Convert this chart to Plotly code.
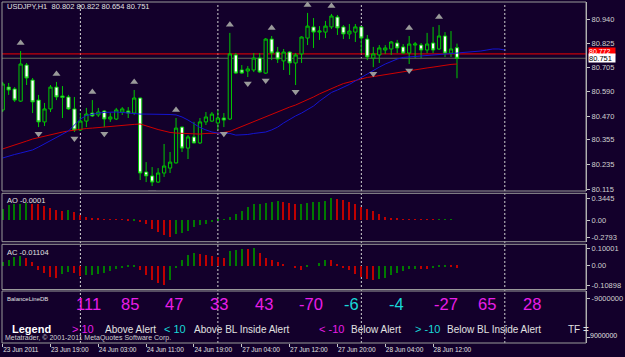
import plotly.graph_objects as go

# ---------------- data ----------------
opens = [80.500, 80.611, 80.602, 80.543, 80.718, 80.645, 80.548, 80.442, 80.505, 80.611,
         80.568, 80.563, 80.505, 80.403, 80.446, 80.485, 80.476, 80.495, 80.456, 80.456,
         80.490, 80.495, 80.485, 80.558, 80.199, 80.180, 80.150, 80.194, 80.218, 80.243,
         80.417, 80.315, 80.369, 80.340, 80.442, 80.446, 80.437, 80.461, 80.456, 80.767,
         80.694, 80.689, 80.694, 80.752, 80.679, 80.844, 80.781, 80.738, 80.781, 80.728,
         80.772, 80.849, 80.903, 80.878, 80.878, 80.903, 80.951, 80.903, 80.869, 80.878,
         80.903, 80.844, 80.752, 80.767, 80.791, 80.796, 80.825, 80.806, 80.776, 80.815,
         80.815, 80.791, 80.825, 80.796, 80.859, 80.776, 80.802]
highs = [80.636, 80.631, 80.611, 80.786, 80.728, 80.655, 80.573, 80.534, 80.621, 80.636,
         80.616, 80.573, 80.563, 80.485, 80.510, 80.548, 80.510, 80.500, 80.485, 80.510,
         80.514, 80.514, 80.597, 80.560, 80.247, 80.223, 80.218, 80.335, 80.296, 80.461,
         80.419, 80.378, 80.442, 80.461, 80.490, 80.490, 80.500, 80.485, 80.874, 80.776,
         80.718, 80.713, 80.776, 80.776, 80.849, 80.859, 80.806, 80.796, 80.786, 80.776,
         80.857, 80.971, 80.946, 80.907, 80.932, 80.966, 80.961, 80.912, 80.917, 80.917,
         80.907, 80.864, 80.806, 80.815, 80.815, 80.835, 80.840, 80.820, 80.859, 80.830,
         80.825, 80.874, 80.903, 80.912, 80.878, 80.883, 80.822]
lows = [80.490, 80.573, 80.539, 80.539, 80.621, 80.485, 80.417, 80.422, 80.490, 80.548,
        80.461, 80.500, 80.393, 80.398, 80.417, 80.466, 80.466, 80.417, 80.442, 80.451,
        80.476, 80.461, 80.476, 80.160, 80.150, 80.131, 80.146, 80.175, 80.194, 80.240,
        80.296, 80.262, 80.338, 80.335, 80.427, 80.442, 80.403, 80.417, 80.451, 80.675,
        80.675, 80.660, 80.684, 80.679, 80.675, 80.742, 80.728, 80.694, 80.670, 80.621,
        80.728, 80.815, 80.801, 80.840, 80.849, 80.893, 80.864, 80.844, 80.844, 80.830,
        80.776, 80.742, 80.708, 80.728, 80.772, 80.767, 80.776, 80.772, 80.723, 80.752,
        80.752, 80.776, 80.776, 80.791, 80.757, 80.757, 80.654]
closes = [80.626, 80.597, 80.548, 80.723, 80.655, 80.539, 80.442, 80.505, 80.611, 80.563,
          80.561, 80.505, 80.403, 80.446, 80.480, 80.471, 80.490, 80.456, 80.466, 80.500,
          80.505, 80.485, 80.558, 80.194, 80.180, 80.150, 80.194, 80.228, 80.247, 80.412,
          80.315, 80.369, 80.340, 80.442, 80.466, 80.480, 80.461, 80.451, 80.772, 80.679,
          80.679, 80.699, 80.752, 80.684, 80.844, 80.776, 80.747, 80.781, 80.728, 80.767,
          80.854, 80.907, 80.878, 80.883, 80.907, 80.956, 80.898, 80.869, 80.883, 80.903,
          80.849, 80.757, 80.772, 80.801, 80.801, 80.830, 80.801, 80.776, 80.820, 80.820,
          80.791, 80.820, 80.791, 80.859, 80.776, 80.796, 80.751]

ma_red = [80.311, 80.320, 80.328, 80.337, 80.349, 80.359, 80.366, 80.374, 80.381, 80.388,
          80.393, 80.398, 80.403, 80.408, 80.410, 80.412, 80.415, 80.417, 80.420, 80.422,
          80.425, 80.427, 80.430, 80.432, 80.422, 80.412, 80.405, 80.398, 80.391, 80.388,
          80.386, 80.386, 80.383, 80.383, 80.386, 80.386, 80.388, 80.391, 80.396, 80.408,
          80.420, 80.432, 80.444, 80.456, 80.466, 80.478, 80.490, 80.502, 80.514, 80.524,
          80.536, 80.548, 80.563, 80.578, 80.592, 80.604, 80.616, 80.628, 80.636, 80.645,
          80.653, 80.658, 80.662, 80.667, 80.672, 80.677, 80.682, 80.684, 80.689, 80.694,
          80.699, 80.704, 80.708, 80.713, 80.718, 80.721, 80.723]
ma_blue = [80.267, 80.277, 80.284, 80.291, 80.298, 80.306, 80.320, 80.335, 80.354, 80.369,
           80.383, 80.398, 80.427, 80.456, 80.473, 80.480, 80.485, 80.488, 80.490, 80.490,
           80.488, 80.485, 80.483, 80.480, 80.480, 80.480, 80.480, 80.480, 80.478, 80.476,
           80.466, 80.451, 80.432, 80.415, 80.403, 80.393, 80.388, 80.388, 80.386, 80.378,
           80.378, 80.381, 80.386, 80.391, 80.393, 80.403, 80.417, 80.437, 80.456, 80.471,
           80.485, 80.500, 80.519, 80.543, 80.565, 80.585, 80.597, 80.609, 80.624, 80.641,
           80.658, 80.675, 80.694, 80.708, 80.723, 80.735, 80.747, 80.755, 80.757, 80.760,
           80.762, 80.764, 80.767, 80.769, 80.772, 80.774, 80.776, 80.779, 80.781, 80.784,
           80.786, 80.791, 80.796, 80.796, 80.791]

up_fractal_bars = [3, 9, 15, 22, 29, 38, 45, 51, 55, 68, 73]
down_fractal_bars = [6, 12, 17, 25, 37, 41, 44, 49, 62, 68]

ao = [0.18, 0.245, 0.252, 0.26, 0.266, 0.26, 0.25, 0.228, 0.195, 0.155,
      0.145, 0.15, 0.12, 0.08, 0.05, 0.025, 0.014, 0.011, 0.009, 0.006,
      0.002, -0.018, -0.012, -0.04, -0.075, -0.145, -0.2, -0.24, -0.2793, -0.235,
      -0.21, -0.175, -0.125, -0.088, -0.063, -0.04, -0.02, 0.003, 0.05, 0.1,
      0.14, 0.198, 0.25, 0.26, 0.266, 0.287, 0.30, 0.287, 0.276, 0.25,
      0.255, 0.265, 0.28, 0.29, 0.30, 0.3445, 0.33, 0.313, 0.292, 0.26,
      0.208, 0.17, 0.135, 0.093, 0.05, 0.03, 0.014, 0.006, 0.003, 0.002,
      0.001, 0.0005, 0.0002, 0.004, 0.006, 0.008, -0.0001]
ac = [0.02, 0.034, 0.05, 0.053, 0.044, 0.019, -0.023, -0.042, -0.065, -0.068,
      -0.05, -0.035, -0.04, -0.06, -0.055, -0.052, -0.048, -0.04, -0.03, -0.02,
      -0.012, -0.008, -0.004, -0.023, -0.051, -0.084, -0.1, -0.10898, -0.08, -0.013,
      0.034, 0.063, 0.072, 0.068, 0.063, 0.053, 0.048, 0.044, 0.082, 0.09,
      0.097, 0.092, 0.10001, 0.072, 0.044, 0.03, 0.019, 0.011, 0.0, -0.013,
      -0.023, -0.007, 0.0, 0.015, 0.033, 0.03, 0.006, -0.013, -0.026, -0.05,
      -0.063, -0.074, -0.081, -0.078, -0.068, -0.055, -0.044, -0.031, -0.022, -0.018,
      -0.02, -0.021, -0.015, -0.011, -0.009, -0.01, -0.01104]

day_start_bars = [13, 36, 60, 84]
time_label_bars = [0, 8, 16, 24, 32, 40, 48, 56, 64, 72]
time_labels = ["23 Jun 2011", "23 Jun 19:00", "24 Jun 03:00", "24 Jun 11:00", "24 Jun 19:00",
               "27 Jun 04:00", "27 Jun 12:00", "27 Jun 20:00", "28 Jun 04:00", "28 Jun 12:00"]
price_ticks = [80.940, 80.825, 80.705, 80.590, 80.470, 80.355, 80.235, 80.115]
price_tick_text = ["80.940", "80.825", "80.705", "80.590", "80.470", "80.355", "80.235", "80.115"]
ao_ticks = [0.3445, 0.0, -0.2793]
ao_tick_text = ["0.3445", "0.00", "-0.2793"]
ac_ticks = [0.10001, 0.0, -0.10898]
ac_tick_text = ["0.10001", "0.00", "-0.10898"]
bal_ticks = [-9000000, 9000000]
bal_tick_text = ["-9000000", "9000000"]
alert_line = 80.772
bid_price = 80.751
header_text = "USDJPY,H1  80.802 80.822 80.654 80.751"
ao_label = "AO -0.0001"
ac_label = "AC -0.01104"
balance_values = [111, 85, 47, 33, 43, -70, -6, -4, -27, 65, 28]

# ---------------- style / layout ----------------
BG = "#13002b"
GREEN = "#00c800"
FONT = "Liberation Sans"
W, H = 625, 357
L, R, T, B = 2, 596, 2, 343
BAR_PX, BAR0_PX = 6.08, 2.7


def xp(px):
    return (px - L) / (R - L)


def yp(py):
    return (B - py) / (B - T)


bars = list(range(len(opens)))
fig = go.Figure()

fig.add_trace(go.Candlestick(
    x=bars, open=opens, high=highs, low=lows, close=closes,
    increasing=dict(line=dict(color=GREEN, width=1), fillcolor=BG),
    decreasing=dict(line=dict(color=GREEN, width=1), fillcolor="#ffffff"),
    whiskerwidth=0, xaxis="x", yaxis="y", hoverinfo="skip", showlegend=False))

fig.add_trace(go.Scatter(x=list(range(len(ma_red))), y=ma_red, mode="lines",
                         line=dict(color="#d00000", width=1), yaxis="y", hoverinfo="skip",
                         showlegend=False))
fig.add_trace(go.Scatter(x=list(range(len(ma_blue))), y=ma_blue, mode="lines",
                         line=dict(color="#1414d0", width=1), yaxis="y", hoverinfo="skip",
                         showlegend=False))

up_off, dn_off = 0.039, 0.032
fig.add_trace(go.Scatter(x=up_fractal_bars, y=[highs[i] + up_off for i in up_fractal_bars],
                         mode="markers", marker=dict(symbol="triangle-up", size=7, color="#9a9a9a"),
                         yaxis="y", hoverinfo="skip", showlegend=False))
fig.add_trace(go.Scatter(x=down_fractal_bars, y=[lows[i] - dn_off for i in down_fractal_bars],
                         mode="markers", marker=dict(symbol="triangle-down", size=7, color="#9a9a9a"),
                         yaxis="y", hoverinfo="skip", showlegend=False))


def updown_colors(vals):
    cols = []
    for i, v in enumerate(vals):
        if i == 0 or v > vals[i - 1]:
            cols.append("#007a00")
        else:
            cols.append("#c00000")
    return cols


fig.add_trace(go.Bar(x=list(range(len(ao))), y=ao, marker=dict(color=updown_colors(ao), line=dict(width=0)),
                     width=0.22, yaxis="y2", hoverinfo="skip", showlegend=False))
fig.add_trace(go.Bar(x=list(range(len(ac))), y=ac, marker=dict(color=updown_colors(ac), line=dict(width=0)),
                     width=0.22, yaxis="y3", hoverinfo="skip", showlegend=False))
# invisible anchor trace so that the BalanceLineDB panel axis is drawn
fig.add_trace(go.Scatter(x=[0], y=[0], mode="markers", marker=dict(opacity=0), yaxis="y4",
                         hoverinfo="skip", showlegend=False))

# panel geometry (pixels)
main_px = (2, 191)
ao_px = (193.3, 241.7)
ac_px = (244.3, 289.5)
bal_px = (291, 343)

axis_font = dict(family=FONT, size=7.5, color="#d0d0d0")
common_y = dict(side="right", showgrid=False, zeroline=False, ticks="outside", ticklen=3,
                tickcolor="#c8c8c8", showline=True, linecolor="#c8c8c8", linewidth=1,
                tickfont=axis_font, fixedrange=True, anchor="x", ticklabeloverflow="allow")

px_per_unit = 170 / (80.940 - 80.115)
top_price = 80.940 + (19.3 - main_px[0]) / px_per_unit
bot_price = 80.115 - (main_px[1] - 189.3) / px_per_unit

ao_scale = 38.6 / (0.3445 + 0.2793)
ao_zero = 198.7 + 0.3445 * ao_scale
ac_scale = 36.7 / (0.10001 + 0.10898)
ac_zero = 248.3 + 0.10001 * ac_scale
bal_scale = 39.0 / 18000000
bal_mid = 317.5

fig.update_layout(
    width=W, height=H,
    margin=dict(l=L, r=W - R, t=T, b=H - B),
    paper_bgcolor=BG, plot_bgcolor=BG,
    bargap=0, boxgap=0.22, showlegend=False,
    font=dict(family=FONT, color="#d0d0d0"),
    xaxis=dict(domain=[0, 1], anchor="y4",
               range=[(L - BAR0_PX) / BAR_PX, (R - BAR0_PX) / BAR_PX],
               showgrid=False, zeroline=False, rangeslider=dict(visible=False),
               tickvals=time_label_bars, ticktext=time_labels, ticks="outside", ticklen=3,
               tickcolor="#c8c8c8", ticklabelposition="outside right",
               tickfont=dict(family=FONT, size=6.5, color="#e0e0e0"), fixedrange=True),
    yaxis=dict(domain=[yp(main_px[1]), yp(main_px[0])], range=[bot_price, top_price],
               tickvals=price_ticks, ticktext=price_tick_text, **common_y),
    yaxis2=dict(domain=[yp(ao_px[1]), yp(ao_px[0])],
                range=[-(ao_px[1] - ao_zero) / ao_scale, (ao_zero - ao_px[0]) / ao_scale],
                tickvals=ao_ticks, ticktext=ao_tick_text, **common_y),
    yaxis3=dict(domain=[yp(ac_px[1]), yp(ac_px[0])],
                range=[-(ac_px[1] - ac_zero) / ac_scale, (ac_zero - ac_px[0]) / ac_scale],
                tickvals=ac_ticks, ticktext=ac_tick_text, **common_y),
    yaxis4=dict(domain=[yp(bal_px[1]), yp(bal_px[0])],
                range=[(bal_px[1] - bal_mid) / bal_scale, -(bal_mid - bal_px[0]) / bal_scale],
                tickvals=bal_ticks, ticktext=[bal_tick_text[0], ""], **common_y),
)

shapes = []
# day separators
for b in day_start_bars:
    shapes.append(dict(type="line", xref="x", yref="paper", x0=b, x1=b, y0=0, y1=yp(3),
                       line=dict(color="#d0d0d0", width=1, dash="2px,2px"), layer="below"))
# alert line and bid line
shapes.append(dict(type="line", xref="paper", yref="y", x0=0, x1=1, y0=alert_line, y1=alert_line,
                   line=dict(color="#f00000", width=1), layer="below"))
shapes.append(dict(type="line", xref="paper", yref="y", x0=0, x1=1, y0=bid_price, y1=bid_price,
                   line=dict(color="#66665e", width=1), layer="below"))
# panel frames
for (t, b) in [main_px, ao_px, ac_px, bal_px]:
    shapes.append(dict(type="rect", xref="paper", yref="paper", x0=xp(2), x1=1,
                       y0=yp(b), y1=yp(t), line=dict(color="#9a9a9a", width=1),
                       fillcolor="rgba(0,0,0,0)", layer="above"))
fig.update_layout(shapes=shapes)

ann = []


def text(px, py, s, size, color="#e0e0e0", bold=False, anchor="left", bg=None, width=None, height=None):
    d = dict(xref="paper", yref="paper", x=xp(px), y=yp(py), text=("<b>%s</b>" % s) if bold else s,
             showarrow=False, xanchor=anchor, yanchor="middle",
             font=dict(family=FONT, size=size, color=color))
    if bg:
        d.update(bgcolor=bg, borderpad=0, width=width, height=height, align="left")
    ann.append(d)


text(5, 7, header_text, 7.5)
text(5, 201, ao_label, 7.5)
text(5, 252, ac_label, 7.5)
text(5, 298.5, "BalanceLineDB", 6)

MAG = "#e81ee8"
CYN = "#18d8d8"
for k, v in enumerate(balance_values):
    col = CYN if abs(v) < 10 else MAG
    text(75 + 45.5 * k, 303.5, str(v), 16.5, color=col)

text(10, 329, "Legend", 11, color="#ffffff", bold=True)
text(71, 329, "&gt; 10", 11, color=MAG)
text(105, 329.5, "Above Alert", 10)
text(165, 329, "&lt; 10", 11, color=CYN)
text(195, 329.5, "Above BL Inside Alert", 10)
text(322, 329, "&lt; -10", 11, color=MAG)
text(355, 329.5, "Below Alert", 10)
text(420, 329, "&gt; -10", 11, color=CYN)
text(453, 329.5, "Below BL Inside Alert", 10)
text(576, 329.5, "TF =", 10)
text(3, 337.5, "Metatrader, \u00a9 2001-2011 MetaQuotes Software Corp.", 7, color="#d0d0d0")

# lower scale label of the BalanceLineDB panel
text(598, 335.5, bal_tick_text[1], 7, color="#e0e0e0")

# price boxes on the right axis
text(598, 52.0, "%.3f" % alert_line, 7, color="#ffffff", bg="#ff0000", width=26, height=7)
text(598, 58.4, "%.3f" % bid_price, 7.5, color="#000000", bg="#ffffff", width=26, height=8)

fig.update_layout(annotations=ann)

fig.write_html("out.html")
